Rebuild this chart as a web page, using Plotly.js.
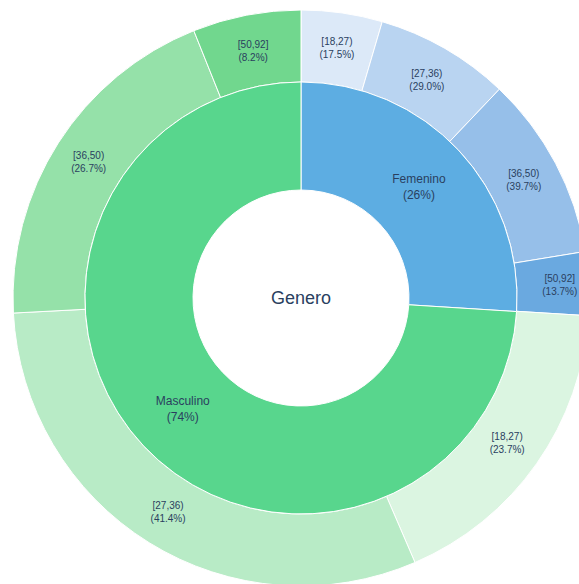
<!DOCTYPE html>
<html>
<head>
<meta charset="utf-8">
<script src="https://cdn.plot.ly/plotly-3.0.1.min.js"></script>
<style>html,body{margin:0;padding:0;overflow:hidden;background:#fff}</style>
</head>
<body>
<div id="chart"></div>
<script>
// Data
const rootLabel = 'Genero';
const genders = ['Femenino', 'Masculino'];
const genderPct = [26, 74];
const ageGroups = ['[18,27)', '[27,36)', '[36,50)', '[50,92]'];
const femAgePct = [17.5, 29.0, 39.7, 13.7];
const mascAgePct = [23.7, 41.4, 26.7, 8.2];

// Styles
const genderColors = ['#5dade2', '#58d68d'];
const femAgeColors = ['#dce9f8', '#b9d4f1', '#96bfe9', '#6aa9e0'];
const mascAgeColors = ['#dbf5e1', '#b8ebc6', '#95e1a9', '#71d78e'];
const textColor = '#2a3f5f';

const innerText = genders.map((g, i) => g + '<br>(' + genderPct[i] + '%)');
const outerLabels = [], outerValues = [], outerText = [], outerColors = [];
[femAgePct, mascAgePct].forEach((arr, gi) => {
  arr.forEach((p, ai) => {
    outerLabels.push(genders[gi] + ' ' + ageGroups[ai]);
    outerValues.push(genderPct[gi] * p / 100);
    outerText.push(ageGroups[ai] + '<br>(' + p.toFixed(1) + '%)');
    outerColors.push((gi === 0 ? femAgeColors : mascAgeColors)[ai]);
  });
});

const inner = {
  type: 'pie',
  labels: genders,
  values: genderPct,
  text: innerText,
  textinfo: 'text',
  textposition: 'inside',
  insidetextorientation: 'horizontal',
  hole: 0.5,
  sort: false,
  direction: 'clockwise',
  rotation: 0,
  domain: {x: [0.125, 0.875], y: [0.125, 0.875]},
  marker: {colors: genderColors, line: {color: '#ffffff', width: 1}},
  textfont: {family: 'Liberation Sans, Arial, sans-serif', size: 12, color: textColor},
  showlegend: false,
  hoverinfo: 'label+percent'
};

const outer = {
  type: 'pie',
  labels: outerLabels,
  values: outerValues,
  text: outerText,
  textinfo: 'text',
  textposition: 'inside',
  insidetextorientation: 'horizontal',
  hole: 0.75,
  sort: false,
  direction: 'clockwise',
  rotation: 0,
  domain: {x: [0, 1], y: [0, 1]},
  marker: {colors: outerColors, line: {color: '#ffffff', width: 1}},
  textfont: {family: 'Liberation Sans, Arial, sans-serif', size: 10, color: textColor},
  showlegend: false,
  hoverinfo: 'label'
};

const layout = {
  width: 600,
  height: 600,
  margin: {l: 13, r: 11, t: 10, b: 14},
  paper_bgcolor: '#ffffff',
  plot_bgcolor: '#ffffff',
  showlegend: false,
  font: {family: 'Liberation Sans, Arial, sans-serif', color: textColor},
  uniformtext: {mode: false},
  annotations: [{
    text: rootLabel,
    x: 0.5, y: 0.5, xref: 'paper', yref: 'paper',
    showarrow: false,
    font: {size: 18, color: textColor, family: 'Liberation Sans, Arial, sans-serif'}
  }]
};

Plotly.newPlot('chart', [outer, inner], layout, {displayModeBar: false, staticPlot: true});
</script>
</body>
</html>
